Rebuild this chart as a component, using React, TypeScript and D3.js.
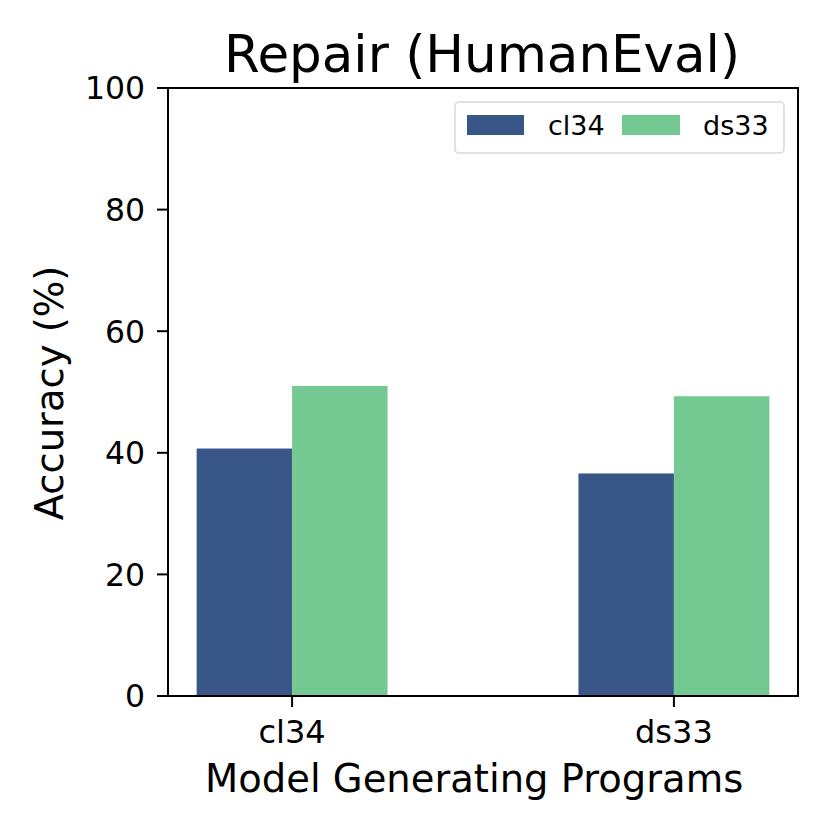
import React from "react";
import * as d3 from "d3";

const categories = ["cl34", "ds33"];
const series = ["cl34", "ds33"];
const cl34Values = [40.7, 36.6];
const ds33Values = [51.0, 49.3];
const yTicks = [0, 20, 40, 60, 80, 100];
const colors = ["#385688", "#73c991"];

export default function App() {
  const W = 830, H = 830;
  const left = 168, right = 798, top = 88, bottom = 696;
  const x = d3.scaleLinear().domain([-0.325, 1.325]).range([left, right]);
  const y = d3.scaleLinear().domain([0, 100]).range([bottom, top]);
  const bw = 0.25;
  const values = [cl34Values, ds33Values];
  const font = "DejaVu Sans, sans-serif";
  return (
    <svg width={W} height={H} style={{ display: "block", position: "absolute", left: 0, top: 0 }}>
      <rect width={W} height={H} fill="#fff" />
      {series.map((s, si) =>
        categories.map((c, ci) => {
          const x0 = x(ci + (si === 0 ? -bw : 0));
          const x1 = x(ci + (si === 0 ? 0 : bw));
          return (
            <rect key={s + c} x={x0} width={x1 - x0} y={y(values[si][ci])} height={y(0) - y(values[si][ci])} fill={colors[si]} />
          );
        })
      )}
      <rect x={left} y={top} width={right - left} height={bottom - top} fill="none" stroke="#000" strokeWidth={2} />
      {yTicks.map((t) => (
        <g key={t}>
          <line x1={left - 11} x2={left} y1={y(t)} y2={y(t)} stroke="#000" strokeWidth={2} />
          <text x={left - 23} y={y(t)} dy="0.36em" textAnchor="end" fontFamily={font} fontSize={31.5}>{t}</text>
        </g>
      ))}
      {categories.map((c, ci) => (
        <g key={c}>
          <line x1={x(ci)} x2={x(ci)} y1={bottom} y2={bottom + 11} stroke="#000" strokeWidth={2} />
          <text x={x(ci)} y={743} textAnchor="middle" fontFamily={font} fontSize={32}>{c}</text>
        </g>
      ))}
      <text x={205} y={792} textAnchor="start" fontFamily={font} fontSize={38.5}>Model Generating Programs</text>
      <text transform={`translate(63, 393) rotate(-90)`} textAnchor="middle" fontFamily={font} fontSize={38.5}>Accuracy (%)</text>
      <text x={482} y={72} textAnchor="middle" fontFamily={font} fontSize={51.5}>Repair (HumanEval)</text>
      <g>
        <rect x={455} y={102} width={329} height={51} rx={4} fill="#fff" stroke="#d8d8d8" strokeWidth={1.5} />
        <rect x={467} y={115} width={57} height={20} fill={colors[0]} />
        <text x={548} y={125} dy="0.36em" fontFamily={font} fontSize={27}>{series[0]}</text>
        <rect x={622} y={115} width={58} height={20} fill={colors[1]} />
        <text x={703} y={125} dy="0.36em" fontFamily={font} fontSize={27}>{series[1]}</text>
      </g>
    </svg>
  );
}
